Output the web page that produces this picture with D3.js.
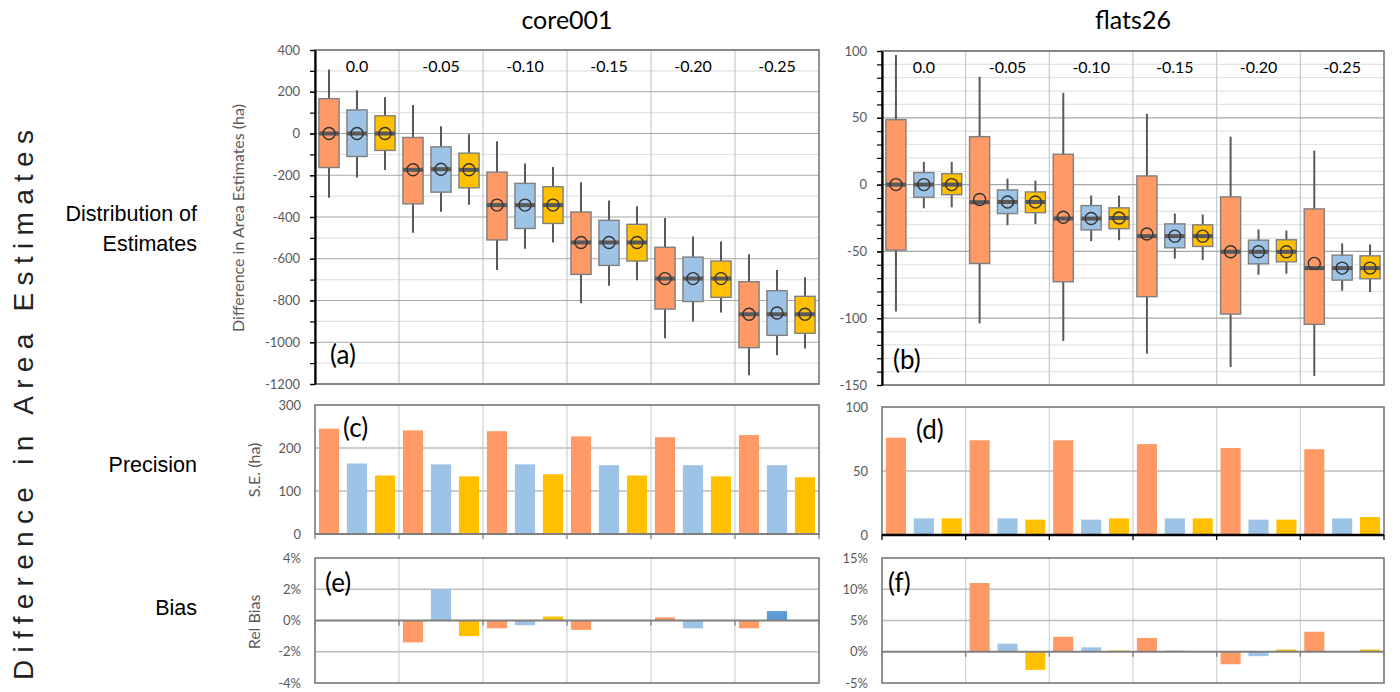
<!DOCTYPE html>
<html><head><meta charset="utf-8">
<script src="https://cdn.jsdelivr.net/npm/d3@7"></script>
<style>body{margin:0;background:#fff}svg{display:block}</style>
</head><body>
<svg id="c" width="1400" height="692"></svg>
<script>
// ---------------- DATA ----------------
const groups = ["0.0","-0.05","-0.10","-0.15","-0.20","-0.25"];
const seriesNames = ["Series 1","Series 2","Series 3"];
// box stats per group: [whiskerLow, q1, median, q3, whiskerHigh, mean]
const core001Box1 = [[-308,-163,0,167,306,0],[-475,-337,-174,-19,136,-174],[-654,-510,-343,-185,-37,-343],[-813,-675,-522,-376,-234,-522],[-981,-841,-695,-545,-405,-695],[-1158,-1026,-866,-710,-579,-866]];
const core001Box2 = [[-211,-110,0,113,207,0],[-375,-281,-171,-64,35,-171],[-552,-455,-343,-239,-144,-343],[-729,-632,-522,-416,-321,-522],[-901,-805,-695,-592,-493,-695],[-1062,-967,-866,-753,-654,-860]];
const core001Box3 = [[-175,-81,0,85,174,0],[-341,-260,-174,-94,-3,-174],[-522,-431,-343,-255,-161,-343],[-703,-611,-522,-435,-349,-522],[-858,-785,-695,-611,-517,-695],[-1030,-957,-866,-780,-689,-866]];
const flats26Box1 = [[-95,-49,0,48.6,97,0],[-104,-59,-13.2,35.9,80.7,-11.2],[-117,-72.7,-25.4,22.7,68.7,-24.4],[-126.5,-83.9,-38.6,6.5,53,-37],[-136.5,-96.9,-50.3,-9.2,35.9,-50.3],[-143.2,-104.6,-62.5,-18.2,25.4,-59]];
const flats26Box2 = [[-17.7,-9.5,0,9,17,0],[-30.4,-21.7,-13,-4,4.5,-13],[-42.3,-33.9,-25.4,-15.7,-8.2,-25.4],[-55.5,-47.3,-38.6,-29.4,-21.7,-38.6],[-67.5,-59.3,-50.3,-41.6,-33.6,-50.3],[-79.4,-71.5,-62.5,-52.8,-44,-62.5]];
const flats26Box3 = [[-17,-7.5,0,8.2,17,0],[-29.6,-21,-13,-5.5,3,-13],[-41.6,-33,-25,-17.4,-8.2,-25],[-56.5,-46.3,-38.6,-30.1,-22.4,-38.6],[-66.7,-57.8,-50.3,-41.3,-34.4,-50.3],[-80.4,-70.5,-62.5,-53.3,-44.8,-62.5]];
// standard errors (ha)
const core001SE1 = [245,241,239,227,225,230];
const core001SE2 = [164,162,162,160,160,160];
const core001SE3 = [136,134,139,136,134,132];
const flats26SE1 = [76,74,74,71,68,67];
const flats26SE2 = [13,13,12,13,12,13];
const flats26SE3 = [13,12,13,13,12,14];
// relative bias (%)
const core001Bias1 = [0,-1.4,-0.5,-0.6,0.2,-0.5];
const core001Bias2 = [0,2.0,-0.3,0,-0.5,0.6];
const core001Bias3 = [0,-1.0,0.25,0,0,0];
const flats26Bias1 = [0,11.0,2.4,2.2,-2.0,3.2];
const flats26Bias2 = [0,1.3,0.7,0.2,-0.7,0];
const flats26Bias3 = [0,-2.9,0.2,0,0.35,0.35];
// ticks
const aTicks = [400,200,0,-200,-400,-600,-800,-1000,-1200];
const aMinor = d3.range(-1200,401,100);
const bTicks = [100,50,0,-50,-100,-150];
const bMinor = d3.range(-150,101,10);
const cTicks = [300,200,100,0];
const dTicks = [100,50,0];
const eTicks = [4,2,0,-2,-4];
const fTicks = [15,10,5,0,-5];
const panelTitles = ["core001","flats26"];
const rowLabels = [["Distribution of","Estimates"],["Precision"],["Bias"]];

// ---------------- STYLE ----------------
const colors = ["#FF9966","#9DC3E6","#FFC000"];
const highlightColor = "#5B9BD5";
const FONT = "Lato, 'Open Sans', sans-serif";
const svg = d3.select("#c");
const plain = d => String(d);

function subScale(xg){
  return d3.scaleBand().domain(d3.range(3)).range([0,xg.bandwidth()]).paddingInner(0.28).paddingOuter(0.14);
}

function drawBoxPanel(cfg){
  const {x0,x1,y0,y1,domain,major,minor,series,label,lx,ly} = cfg;
  const g = svg.append("g");
  const y = d3.scaleLinear().domain(domain).range([y1,y0]);
  const xg = d3.scaleBand().domain(groups).range([x0,x1]);
  const xs = subScale(xg);
  g.selectAll(".mn").data(minor.filter(v=>!major.includes(v))).join("line")
    .attr("x1",x0).attr("x2",x1).attr("y1",d=>y(d)).attr("y2",d=>y(d))
    .attr("stroke","#e2e2e2").attr("stroke-width",1.2);
  g.selectAll(".vs").data(groups.slice(1)).join("line")
    .attr("x1",d=>xg(d)).attr("x2",d=>xg(d)).attr("y1",y0).attr("y2",y1)
    .attr("stroke","#c9c9c9").attr("stroke-width",1.2);
  g.selectAll(".mj").data(major).join("line")
    .attr("x1",x0).attr("x2",x1).attr("y1",d=>y(d)).attr("y2",d=>y(d))
    .attr("stroke","#a6a6a6").attr("stroke-width",1.2);
  g.append("rect").attr("x",x0).attr("y",y0).attr("width",x1-x0).attr("height",y1-y0)
    .attr("fill","none").attr("stroke","#6f6f6f").attr("stroke-width",1.5);
  g.selectAll(".gl").data(groups).join("text")
    .attr("x",d=>xg(d)+xg.bandwidth()/2).attr("y",y0+22).attr("text-anchor","middle")
    .style("font","16px "+FONT).attr("fill","#000").text(d=>d);
  series.forEach((arr,si)=>{
    const bw = xs.bandwidth();
    const sg = g.append("g");
    const items = arr.map((s,gi)=>({s,gi,x:xg(groups[gi])+xs(si)}));
    sg.selectAll(".wh").data(items).join("line")
      .attr("x1",d=>d.x+bw/2).attr("x2",d=>d.x+bw/2)
      .attr("y1",d=>y(d.s[0])).attr("y2",d=>y(d.s[4]))
      .attr("stroke","#595959").attr("stroke-width",2);
    sg.selectAll(".bx").data(items).join("rect")
      .attr("x",d=>d.x).attr("width",bw)
      .attr("y",d=>y(d.s[3])).attr("height",d=>y(d.s[1])-y(d.s[3]))
      .attr("fill",colors[si]).attr("stroke","#7f7f7f").attr("stroke-width",1.4);
    sg.selectAll(".md").data(items).join("rect")
      .attr("x",d=>d.x).attr("width",bw)
      .attr("y",d=>y(d.s[2])-2).attr("height",4).attr("fill","#595959");
    sg.selectAll(".mn").data(items).join("circle")
      .attr("cx",d=>d.x+bw/2).attr("cy",d=>y(d.s[5])).attr("r",6)
      .attr("fill","none").attr("stroke","#333").attr("stroke-width",1.4);
  });
  const ax = g.append("g").attr("transform",`translate(${x0},0)`)
    .call(d3.axisLeft(y).tickValues(major).tickSize(5).tickSizeOuter(0).tickPadding(10).tickFormat(plain));
  ax.select(".domain").attr("stroke","#000").attr("stroke-width",2.2);
  ax.selectAll(".tick line").attr("stroke","#000").attr("stroke-width",1.2);
  ax.selectAll("text").attr("fill","#595959").style("font","13px "+FONT);
  const mx = g.append("g").attr("transform",`translate(${x0},0)`)
    .call(d3.axisLeft(y).tickValues(minor).tickSize(5).tickSizeOuter(0).tickFormat(""));
  mx.select(".domain").remove();
  mx.selectAll(".tick line").attr("stroke","#000").attr("stroke-width",1.2);
  g.append("text").attr("x",lx).attr("y",ly).style("font","26px "+FONT).attr("fill","#000").text(label);
}

function drawBarPanel(cfg){
  const {x0,x1,y0,y1,domain,ticks,series,fmt,axisColor,axisWidth,label,lx,ly,highlight} = cfg;
  const g = svg.append("g");
  const y = d3.scaleLinear().domain(domain).range([y1,y0]);
  const xg = d3.scaleBand().domain(groups).range([x0,x1]);
  const xs = subScale(xg);
  g.selectAll(".vs").data(groups.slice(1)).join("line")
    .attr("x1",d=>xg(d)).attr("x2",d=>xg(d)).attr("y1",y0).attr("y2",y1)
    .attr("stroke","#d6d6d6").attr("stroke-width",1.3);
  g.selectAll(".mj").data(ticks.filter(v=>v!==0 && v!==domain[0] && v!==domain[1])).join("line")
    .attr("x1",x0).attr("x2",x1).attr("y1",d=>y(d)).attr("y2",d=>y(d))
    .attr("stroke","#bdbdbd").attr("stroke-width",1.3);
  g.append("rect").attr("x",x0).attr("y",y0).attr("width",x1-x0).attr("height",y1-y0)
    .attr("fill","none").attr("stroke","#6f6f6f").attr("stroke-width",1.5);
  series.forEach((arr,si)=>{
    g.selectAll(".b"+si).data(arr.map((v,gi)=>({v,gi}))).join("rect")
      .attr("x",d=>xg(groups[d.gi])+xs(si)).attr("width",xs.bandwidth())
      .attr("y",d=>y(Math.max(0,d.v))).attr("height",d=>Math.abs(y(d.v)-y(0)))
      .attr("fill",d=>(highlight && highlight.series===si && highlight.group===d.gi)?highlightColor:colors[si]);
  });
  const y0p = y(0);
  g.append("line").attr("x1",x0).attr("x2",x1).attr("y1",y0p).attr("y2",y0p)
    .attr("stroke",axisColor).attr("stroke-width",axisWidth);
  const bnd = groups.map(d=>xg(d)).concat([x1]);
  g.selectAll(".tk").data(bnd).join("line")
    .attr("x1",d=>d).attr("x2",d=>d).attr("y1",y0p).attr("y2",y0p+5)
    .attr("stroke",axisColor).attr("stroke-width",1.3);
  const ax = g.append("g").attr("transform",`translate(${x0},0)`)
    .call(d3.axisLeft(y).tickValues(ticks).tickSize(0).tickPadding(14).tickFormat(fmt));
  ax.select(".domain").remove();
  ax.selectAll("text").attr("fill","#595959").style("font","13px "+FONT);
  g.append("text").attr("x",lx).attr("y",ly).style("font","26px "+FONT).attr("fill","#000").text(label);
}

// ---------------- PANELS ----------------
drawBoxPanel({x0:315,x1:819,y0:50,y1:384,domain:[-1200,400],major:aTicks,minor:aMinor,
  series:[core001Box1,core001Box2,core001Box3],label:"(a)",lx:330,ly:364});
drawBoxPanel({x0:882,x1:1384,y0:51,y1:385,domain:[-150,100],major:bTicks,minor:bMinor,
  series:[flats26Box1,flats26Box2,flats26Box3],label:"(b)",lx:893,ly:369});
drawBarPanel({x0:315,x1:819,y0:405,y1:534,domain:[0,300],ticks:cTicks,fmt:plain,
  series:[core001SE1,core001SE2,core001SE3],axisColor:"#7f7f7f",axisWidth:2.2,label:"(c)",lx:343,ly:437});
drawBarPanel({x0:882,x1:1384,y0:407,y1:535,domain:[0,100],ticks:dTicks,fmt:plain,
  series:[flats26SE1,flats26SE2,flats26SE3],axisColor:"#000",axisWidth:2.6,label:"(d)",lx:916,ly:439});
drawBarPanel({x0:315,x1:819,y0:558,y1:683,domain:[-4,4],ticks:eTicks,fmt:d=>d+"%",
  series:[core001Bias1,core001Bias2,core001Bias3],axisColor:"#7f7f7f",axisWidth:2.2,label:"(e)",lx:325,ly:592,
  highlight:{series:1,group:5}});
drawBarPanel({x0:882,x1:1384,y0:558,y1:683,domain:[-5,15],ticks:fTicks,fmt:d=>d+"%",
  series:[flats26Bias1,flats26Bias2,flats26Bias3],axisColor:"#7f7f7f",axisWidth:2.2,label:"(f)",lx:888,ly:592});

// ---------------- TEXT ----------------
svg.selectAll(".pt").data(panelTitles).join("text")
  .attr("x",(d,i)=>i===0?567:1133).attr("y",29).attr("text-anchor","middle")
  .style("font","25px "+FONT).attr("fill","#000").text(d=>d);

const rowY = [[221,251],[472],[615]];
rowLabels.forEach((lines,ri)=>{
  lines.forEach((t,li)=>{
    svg.append("text").attr("x",197).attr("y",rowY[ri][li]).attr("text-anchor","end")
      .style("font","21.5px 'Liberation Sans', Arial, sans-serif").attr("fill","#000").text(t);
  });
});

svg.append("text").attr("transform","translate(33,405) rotate(-90)").attr("text-anchor","middle")
  .attr("textLength",550).attr("lengthAdjust","spacing")
  .style("font","28px 'Liberation Sans', Arial, sans-serif").attr("fill","#222").text("Difference in Area Estimates");

const axTitles = [["Difference in Area Estimates (ha)",244,218],["S.E. (ha)",260,470],["Rel Bias",260,622]];
axTitles.forEach(([t,x,y])=>{
  svg.append("text").attr("transform",`translate(${x},${y}) rotate(-90)`).attr("text-anchor","middle")
    .style("font","16px "+FONT).attr("fill","#595959").text(t);
});
</script>
</body></html>
